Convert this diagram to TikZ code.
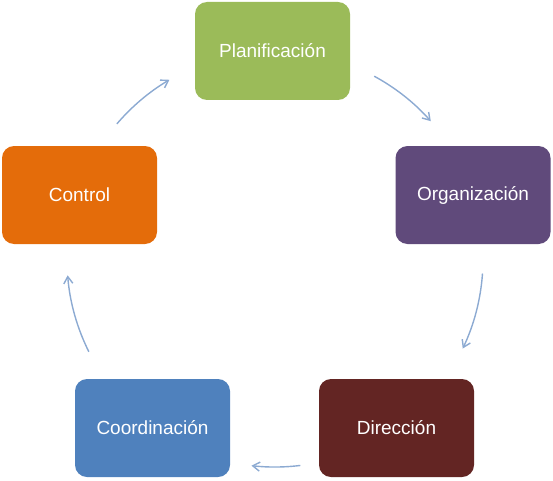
\documentclass[tikz,border=0pt]{standalone}
\usepackage{fontspec}
\setmainfont{Liberation Sans}
\usetikzlibrary{arrows.meta}
\definecolor{cgreen}{RGB}{155,187,89}
\definecolor{cpurple}{RGB}{96,74,123}
\definecolor{cred}{RGB}{99,37,35}
\definecolor{cblue}{RGB}{79,129,189}
\definecolor{corange}{RGB}{228,108,10}
\definecolor{carrow}{RGB}{140,170,210}
\begin{document}
\begin{tikzpicture}[x=1pt,y=1pt,
  box/.style={rounded corners=12pt, minimum width=155pt, minimum height=98pt,
    inner sep=0pt, text=white, font=\fontsize{19}{22}\selectfont},
  arr/.style={draw=carrow, line width=1.4pt, -{Straight Barb[length=7pt,width=9pt]}}]
\useasboundingbox (0,0) rectangle (553,480);
\node[box, fill=cgreen]  (plan) at (272.5,429) {Planificación};
\node[box, fill=cpurple] (org)  at (473,285)   {Organización};
\node[box, fill=cred]    (dir)  at (396.5,52)  {Dirección};
\node[box, fill=cblue]   (coor) at (152.5,52)  {Coordinación};
\node[box, fill=corange] (ctl)  at (79.5,285)  {Control};
\coordinate (ctr) at (275,221);
\draw[arr] (ctr) ++(61.5:208) arc[start angle=61.5, end angle=41.5, radius=208];
\draw[arr] (ctr) ++(-4:208) arc[start angle=-4, end angle=-25.5, radius=208];
\draw[arr] (ctr) ++(-83:208) arc[start angle=-83, end angle=-96.5, radius=208];
\draw[arr] (ctr) ++(206.5:208) arc[start angle=206.5, end angle=184.5, radius=208];
\draw[arr] (ctr) ++(139.5:208) arc[start angle=139.5, end angle=120.5, radius=208];
\end{tikzpicture}
\end{document}
